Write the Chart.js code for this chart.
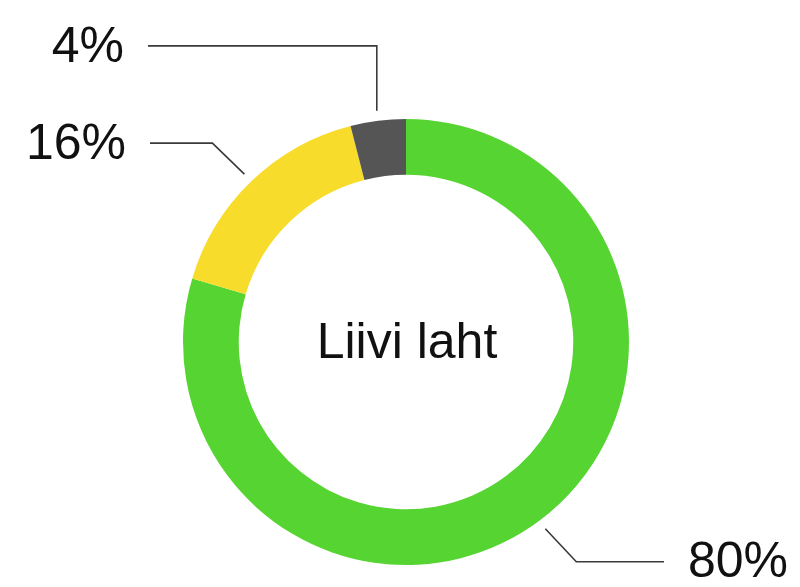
<!DOCTYPE html>
<html lang="et">
<head>
  <meta charset="UTF-8">
  <title>Liivi laht</title>
  <script src="https://cdn.jsdelivr.net/npm/chart.js"></script>
  <style>
    html, body { margin: 0; padding: 0; background: #ffffff; }
    #chart-container { width: 800px; height: 587px; }
  </style>
</head>
<body>
  <div id="chart-container">
    <canvas id="donutChart" width="800" height="587"></canvas>
  </div>

  <script>
    // shares, in drawing order (clockwise from top)
    const segments = ['green', 'yellow', 'grey'];
    const shares = [79.6, 16.4, 4.0];
    const colors = ['#56d432', '#f8dc2b', '#555555'];
    const centerTitle = 'Liivi laht';

    // leader line shapes: elbow offset from anchor, then horizontal run to endX
    const leaders = [
      { dx: 31, dy: 33, endX: 664, side: 'right' },
      { dx: -32, dy: -31, endX: 150, side: 'left' },
      { dx: 0, dy: -65, endX: 148, side: 'left' }
    ];

    const labelFont = '50px "Liberation Sans", Arial, sans-serif';

    const leaderPlugin = {
      id: 'leaders',
      afterDraw(chart) {
        const ctx = chart.ctx;
        const arcs = chart.getDatasetMeta(0).data;
        ctx.save();
        arcs.forEach(function(arc, i) {
          const p = arc.getProps(['x', 'y', 'startAngle', 'endAngle', 'outerRadius'], true);
          const mid = (p.startAngle + p.endAngle) / 2;
          const r = p.outerRadius + 10;
          const ax = p.x + Math.cos(mid) * r;
          const ay = p.y + Math.sin(mid) * r;
          const L = leaders[i];
          const ex = ax + L.dx, ey = ay + L.dy;

          ctx.beginPath();
          ctx.moveTo(ax, ay);
          ctx.lineTo(ex, ey);
          ctx.lineTo(L.endX, ey);
          ctx.strokeStyle = '#3a3a3a';
          ctx.lineWidth = 1.6;
          ctx.stroke();

          const txt = Math.round(shares[i]) + '%';
          ctx.font = labelFont;
          ctx.fillStyle = '#111111';
          ctx.textBaseline = 'middle';
          if (L.side === 'left') {
            ctx.textAlign = 'right';
            ctx.fillText(txt, L.endX - 24, ey + 2);
          } else {
            ctx.textAlign = 'left';
            ctx.fillText(txt, L.endX + 24, ey + 1);
          }
        });

        // title in the hole
        const c = arcs[0];
        ctx.font = labelFont;
        ctx.fillStyle = '#111111';
        ctx.textAlign = 'center';
        ctx.textBaseline = 'middle';
        ctx.fillText(centerTitle, c.x + 1, c.y + 2);
        ctx.restore();
      }
    };

    const ctx = document.getElementById('donutChart').getContext('2d');
    new Chart(ctx, {
      type: 'doughnut',
      data: {
        labels: segments,
        datasets: [{
          data: shares,
          backgroundColor: colors,
          borderWidth: 0,
          hoverOffset: 0
        }]
      },
      options: {
        responsive: false,
        animation: false,
        cutout: '75%',
        layout: { padding: { left: 183, right: 171, top: 119, bottom: 22 } },
        plugins: {
          legend: { display: false },
          tooltip: { enabled: false }
        }
      },
      plugins: [leaderPlugin]
    });
  </script>
</body>
</html>
